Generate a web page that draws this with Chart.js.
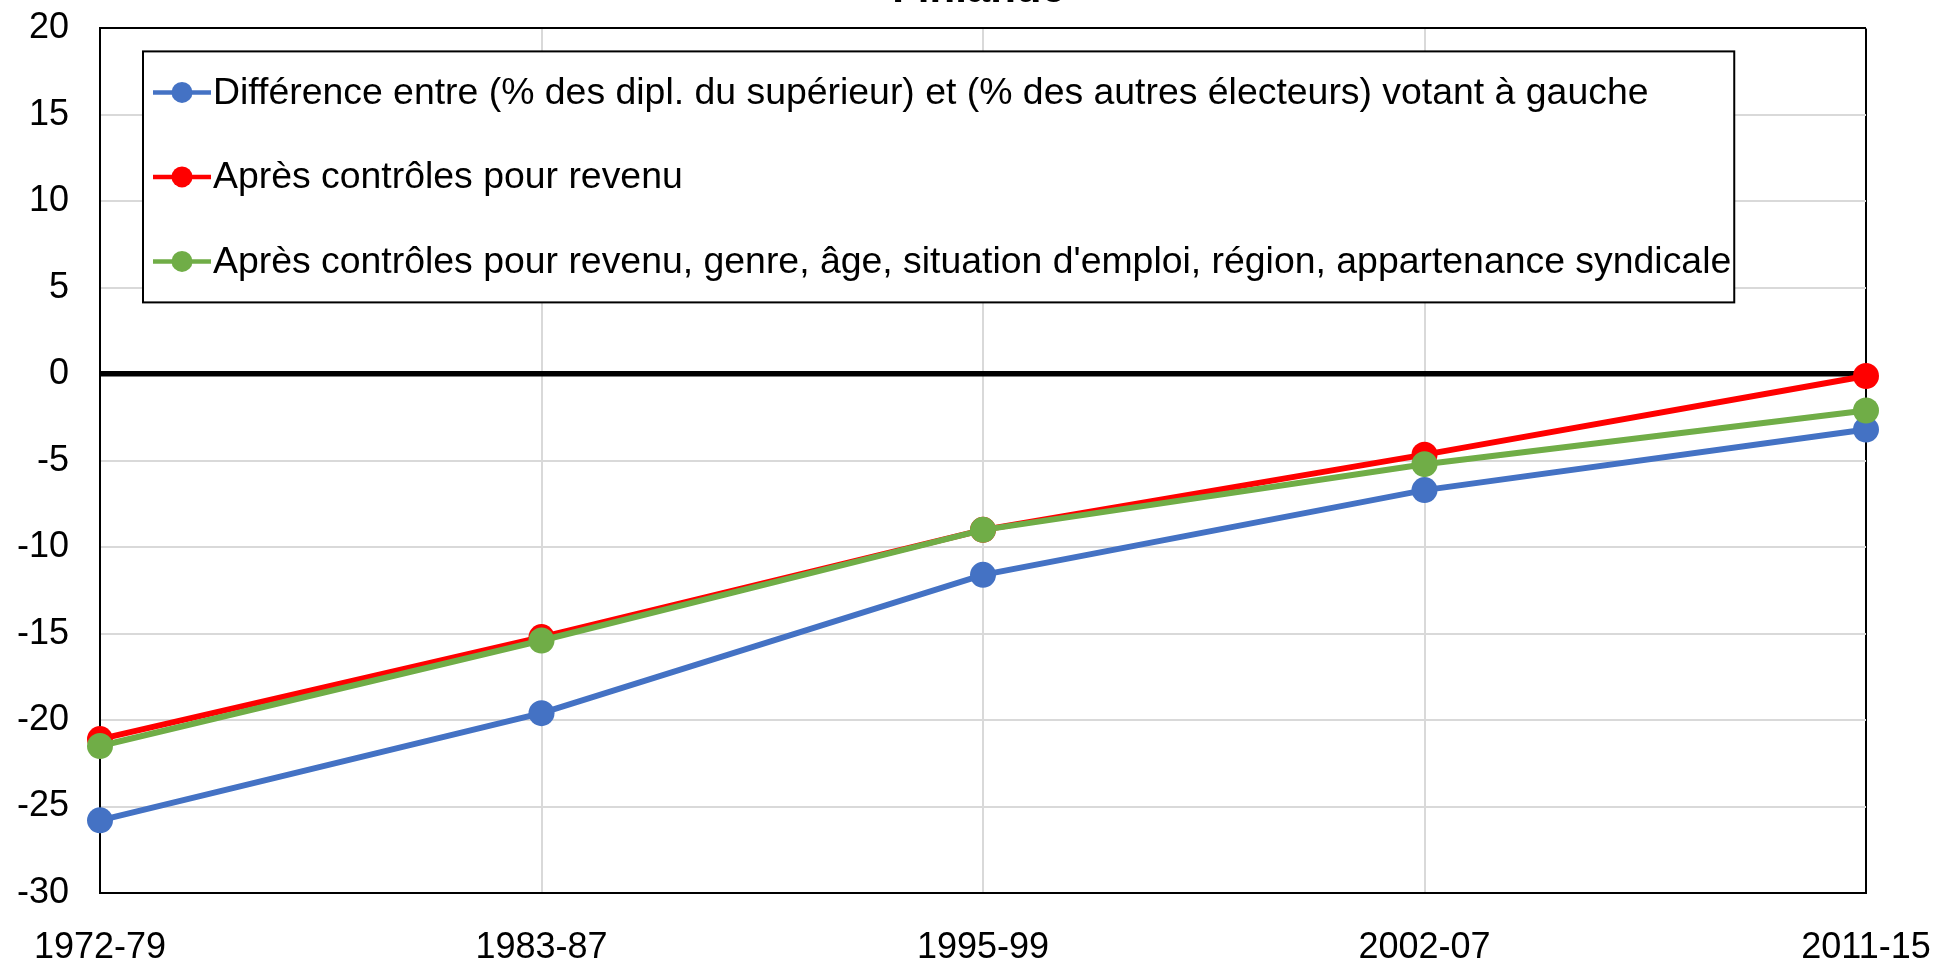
<!DOCTYPE html>
<html>
<head>
<meta charset="utf-8">
<script src="https://cdn.jsdelivr.net/npm/chart.js@4"></script>
<style>
  html, body { margin: 0; padding: 0; background: #fff; }
  #wrap { position: relative; width: 1957px; height: 965px; overflow: hidden; }
  #box { position: absolute; left: 0; top: -40px; width: 1957px; height: 1005px; }
</style>
</head>
<body>
<div id="wrap"><div id="box"><canvas id="myChart"></canvas></div></div>
<script>
var periods = ["1972-79", "1983-87", "1995-99", "2002-07", "2011-15"];
var diffRaw = [-25.8, -19.6, -11.6, -6.7, -3.2];
var diffIncome = [-21.1, -15.2, -9.0, -4.65, -0.1];
var diffAll = [-21.5, -15.4, -9.0, -5.2, -2.1];
var labelRaw = "Différence entre (% des dipl. du supérieur) et (% des autres électeurs) votant à gauche";
var labelIncome = "Après contrôles pour revenu";
var labelAll = "Après contrôles pour revenu, genre, âge, situation d'emploi, région, appartenance syndicale";

var FONT = "'Liberation Sans', Arial, sans-serif";

// legend drawn inside the plot, boxed, like the original
var boxLegend = {
  id: "boxLegend",
  afterDraw: function (chart) {
    var ctx = chart.ctx;
    var area = chart.chartArea;
    var left = area.left + 43;
    var top = area.top + 23;
    var rowGap = 84.5;
    var firstY = top + 41;
    ctx.save();
    ctx.font = "37.4px " + FONT;
    var maxW = 0;
    chart.data.datasets.forEach(function (ds) {
      maxW = Math.max(maxW, ctx.measureText(ds.label).width);
    });
    var width = 70 + maxW + 3;
    var height = 251;
    ctx.fillStyle = "#fff";
    ctx.fillRect(left, top, width, height);
    ctx.strokeStyle = "#000";
    ctx.lineWidth = 2;
    ctx.strokeRect(left, top, width, height);
    chart.data.datasets.forEach(function (ds, i) {
      var y = firstY + i * rowGap;
      ctx.strokeStyle = ds.borderColor;
      ctx.lineWidth = 4.5;
      ctx.beginPath();
      ctx.moveTo(left + 10, y);
      ctx.lineTo(left + 68, y);
      ctx.stroke();
      ctx.fillStyle = ds.borderColor;
      ctx.beginPath();
      ctx.arc(left + 39, y, 10.5, 0, Math.PI * 2);
      ctx.fill();
      ctx.fillStyle = "#000";
      ctx.textBaseline = "middle";
      ctx.textAlign = "left";
      ctx.fillText(ds.label, left + 70, y + 1);
    });
    ctx.restore();
  }
};

var data = {
  labels: periods,
  datasets: [
    {
      label: labelRaw,
      data: diffRaw,
      borderColor: "#4472C4",
      backgroundColor: "#4472C4",
      order: 2,
    },
    {
      label: labelIncome,
      data: diffIncome,
      borderColor: "#FF0000",
      backgroundColor: "#FF0000",
      order: 1,
    },
    {
      label: labelAll,
      data: diffAll,
      borderColor: "#70AD47",
      backgroundColor: "#70AD47",
      order: 0,
    },
  ],
};

var config = {
  type: "line",
  data: data,
  options: {
    responsive: true,
    maintainAspectRatio: false,
    animation: false,
    layout: { padding: 0 },
    elements: {
      line: { borderWidth: 6, tension: 0 },
      point: { radius: 13, borderWidth: 0, hoverRadius: 13 },
    },
    scales: {
      x: {
        offset: false,
        grid: {
          drawTicks: false,
          color: function (c) {
            return c.index === periods.length - 1 ? "#000" : "#d9d9d9";
          },
          lineWidth: 2,
        },
        border: { color: "#000", width: 2 },
        ticks: { color: "#000", padding: 33, maxRotation: 0, font: { family: FONT, size: 36 } },
        afterFit: function (scale) {
          scale.height = 72;
          // fixed side margins so the title stays centred on the page
          scale.paddingLeft = 0;
          scale.paddingRight = 91;
        },
      },
      y: {
        min: -30,
        max: 20,
        grid: {
          drawTicks: false,
          color: function (c) {
            if (c.tick.value === 0 || c.tick.value === 20) return "#000";
            return "#d9d9d9";
          },
          lineWidth: function (c) {
            if (c.tick.value === 0) return 5.5;
            return 2;
          },
        },
        border: { color: "#000", width: 2 },
        ticks: { color: "#000", stepSize: 5, padding: 31, font: { family: FONT, size: 36 } },
        afterFit: function (scale) { scale.width = 100; },
      },
    },
    plugins: {
      legend: { display: false },
      tooltip: { enabled: false },
      title: {
        display: true,
        text: "Finlande",
        color: "#000",
        font: { family: FONT, size: 42, weight: "bold" },
        padding: { top: 5, bottom: 13 },
      },
    },
  },
  plugins: [boxLegend],
};

var myChart = document.getElementById("myChart").getContext("2d");

var chart1 = new Chart(myChart, config);
</script>
</body>
</html>
